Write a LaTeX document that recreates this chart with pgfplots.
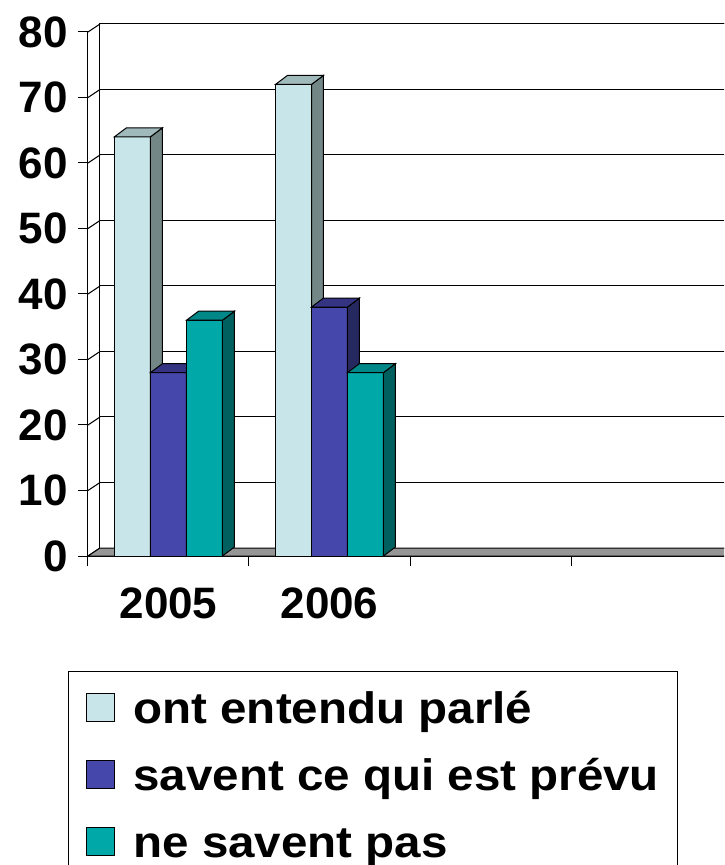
\documentclass[border=0pt]{standalone}
\usepackage{fontspec}
\setmainfont{Liberation Sans}
\usepackage{graphicx}
\usepackage{pgfplots}
\usepackage{pgfplotstable}
\pgfplotsset{compat=1.18}

\definecolor{lightfront}{HTML}{C8E6EA}
\definecolor{lightside}{HTML}{738787}
\definecolor{lighttop}{HTML}{A0B9BB}
\definecolor{bluefront}{HTML}{4548AA}
\definecolor{blueside}{HTML}{262860}
\definecolor{bluetop}{HTML}{343482}
\definecolor{tealfront}{HTML}{00A8A8}
\definecolor{tealside}{HTML}{005F5F}
\definecolor{tealtop}{HTML}{008787}
\definecolor{floorgray}{HTML}{969696}

\pgfplotstableread{
x    heard know none
0.5  64    28   36
1.5  72    38   28
}\datatable

% side and top faces of a 3D bar, from the table
\newcommand\barfaces[5]{%
  \pgfplotstablegetelem{#1}{x}\of\datatable \let\cx\pgfplotsretval
  \pgfplotstablegetelem{#1}{#2}\of\datatable \let\val\pgfplotsretval
  \pgfmathsetmacro\xL{\cx+#3-0.1118}%
  \pgfmathsetmacro\xR{\cx+#3+0.1118}%
  \pgfmathsetmacro\xLb{\xL+0.0745}%
  \pgfmathsetmacro\xRb{\xR+0.0745}%
  \pgfmathsetmacro\vb{\val+1.374}%
  \edef\doit{\noexpand\addplot[fill=#4, draw=black, line width=1pt, forget plot] coordinates {(\xR,0) (\xRb,1.374) (\xRb,\vb) (\xR,\val)} -- cycle;}\doit
  \edef\doit{\noexpand\addplot[fill=#5, draw=black, line width=1pt, forget plot] coordinates {(\xL,\val) (\xLb,\vb) (\xRb,\vb) (\xR,\val)} -- cycle;}\doit
}

\newcommand\bigfont{\fontsize{44}{44}\selectfont\bfseries}

\begin{document}
\begin{tikzpicture}
\useasboundingbox (0pt,0pt) rectangle (724pt,865pt);
\clip (0pt,0pt) rectangle (724pt,865pt);
\begin{axis}[
  at={(88pt,309pt)}, anchor=south west,
  scale only axis, width=644pt, height=524pt,
  xmin=0, xmax=4, ymin=0, ymax=80,
  clip=false,
  axis lines*=left,
  axis line style={-, line width=1pt, black},
  tick style={black, line width=1pt},
  tick align=outside,
  major tick length=10pt,
  xtick={0,1,2,3}, xticklabels={,,,},
  extra x ticks={0.5,1.5}, extra x tick labels={2005,2006},
  extra x tick style={major tick length=0pt, xticklabel style={anchor=north, inner sep=0pt, yshift=-32pt}},
  ytick={0,10,...,80},
  yticklabel style={anchor=east, inner sep=0pt, xshift=-10pt},
  ticklabel style={font=\bigfont},
  /pgf/number format/assume math mode=true,
  legend style={
    at={(-0.03106,-0.2195)}, anchor=north west,
    draw=black, line width=1pt, fill=white,
    inner xsep=18pt, inner ysep=12pt,
    row sep=19pt, column sep=18pt,
    font=\bigfont,
    nodes={inner sep=0pt, text height=40pt, text depth=8pt},
  },
  legend cell align=left,
]
% back wall
\draw[line width=1pt, fill=white] ([shift={(12pt,8pt)}]axis cs:0,0) rectangle ([shift={(12pt,8pt)}]axis cs:4,80);
\pgfplotsinvokeforeach{10,20,30,40,50,60,70,80}{
  \draw[line width=1pt] ([shift={(12pt,8pt)}]axis cs:0,#1) -- ([shift={(12pt,8pt)}]axis cs:4,#1);
}
\pgfplotsinvokeforeach{0,10,20,30,40,50,60,70,80}{
  \draw[line width=1pt] (axis cs:0,#1) -- ([shift={(12pt,8pt)}]axis cs:0,#1);
}
% floor
\draw[line width=1pt, fill=floorgray] (axis cs:0,0) -- (axis cs:4,0) -- ([shift={(12pt,8pt)}]axis cs:4,0) -- ([shift={(12pt,8pt)}]axis cs:0,0) -- cycle;

% series 1
\addplot[ybar, bar width=36pt, bar shift=-36pt, fill=lightfront, draw=black, line width=1pt,
  legend image code/.code={\draw[fill=lightfront, draw=black, line width=1pt] (0pt,-14pt) rectangle (28pt,14pt);}]
  table[x=x, y=heard] {\datatable};
\barfaces{0}{heard}{-0.2236}{lightside}{lighttop}
\barfaces{1}{heard}{-0.2236}{lightside}{lighttop}
% series 2
\addplot[ybar, bar width=36pt, bar shift=0pt, fill=bluefront, draw=black, line width=1pt,
  legend image code/.code={\draw[fill=bluefront, draw=black, line width=1pt] (0pt,-14pt) rectangle (28pt,14pt);}]
  table[x=x, y=know] {\datatable};
\barfaces{0}{know}{0}{blueside}{bluetop}
\barfaces{1}{know}{0}{blueside}{bluetop}
% series 3
\addplot[ybar, bar width=36pt, bar shift=36pt, fill=tealfront, draw=black, line width=1pt,
  legend image code/.code={\draw[fill=tealfront, draw=black, line width=1pt] (0pt,-14pt) rectangle (28pt,14pt);}]
  table[x=x, y=none] {\datatable};
\barfaces{0}{none}{0.2236}{tealside}{tealtop}
\barfaces{1}{none}{0.2236}{tealside}{tealtop}

\legend{\scalebox{1.08}[1]{ont entendu parlé}, \scalebox{1.08}[1]{savent ce qui est prévu}\hspace{6pt}, \scalebox{1.08}[1]{ne savent pas}}
\end{axis}
\end{tikzpicture}
\end{document}
